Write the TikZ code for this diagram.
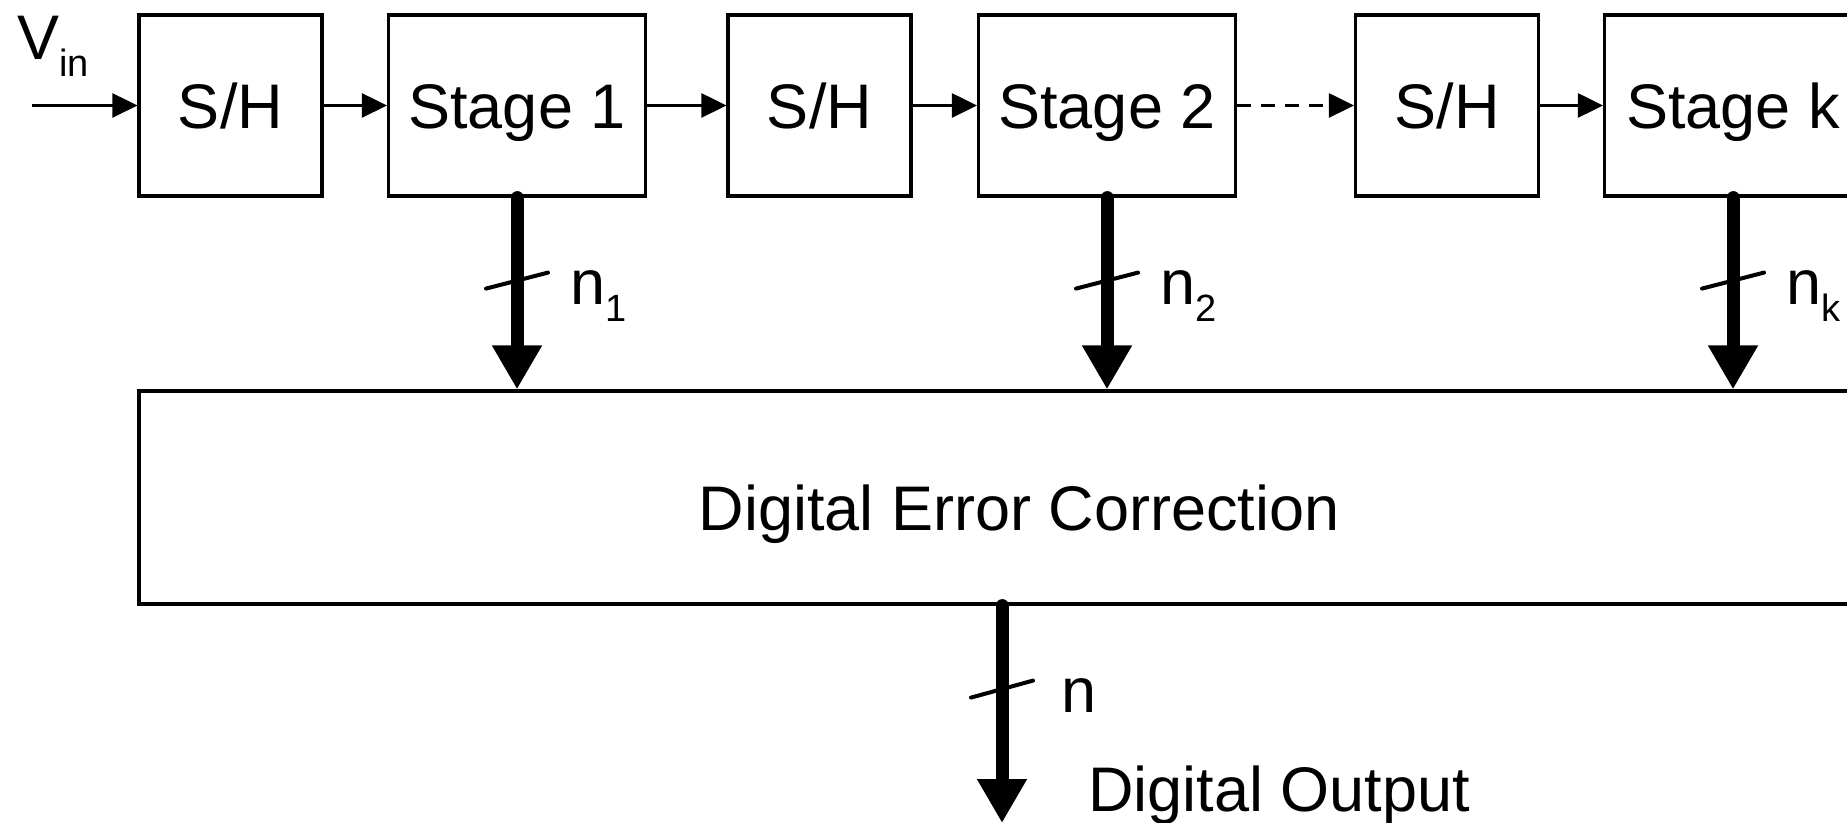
\documentclass[tikz,border=0pt]{standalone}
\usepackage{fontspec}
\setmainfont{Liberation Sans}
\usetikzlibrary{arrows.meta,calc}
\newcommand\mysub[1]{\raisebox{-8.5pt}{\fontsize{19pt}{19pt}\selectfont #1}}
\begin{document}
\begin{tikzpicture}[x=0.5pt,y=-0.5pt,
  bigfont/.style={font=\fontsize{31.5pt}{38pt}\selectfont},
  capcenter/.style={text height=22.55pt,text depth=0pt},
  box/.style={draw,line width=1.6pt,inner sep=0pt,capcenter,minimum height=90.5pt,bigfont},
  shbox/.style={box,minimum width=91.5pt},
  stagebox/.style={box,minimum width=128.5pt},
  sig/.style={line width=1.5pt,-{Triangle[length=12.5pt,width=12pt]}},
  bus/.style={line width=6.5pt,line cap=round,-{Triangle[length=22pt,width=23.5pt]}},
  tick/.style={line width=2pt,line cap=round},
  lbl/.style={inner sep=0pt,anchor=base west,bigfont},
]
\useasboundingbox (0,0) rectangle (1847,823);
\clip (0,0) rectangle (1847,823);

% top row
\node[shbox]    (sh1) at (230.5,105.5) {S/H};
\node[stagebox] (st1) at (517,105.5)   {Stage 1};
\node[shbox]    (sh2) at (819.5,105.5) {S/H};
\node[stagebox] (st2) at (1107,105.5)  {Stage 2};
\node[shbox]    (sh3) at (1447,105.5)  {S/H};
\node[stagebox] (stk) at (1733,105.5)  {Stage k};

% correction block
\node[draw,line width=1.6pt,inner sep=0pt,minimum width=880pt,minimum height=106.5pt] (dec) at (1019,497.5) {};
\node[inner sep=0pt,capcenter,bigfont] (dectext) at (1019,508) {Digital Error Correction};

% input
\node[lbl] (vin) at (17,60) {V\mysub{in}};
\coordinate (vinstart) at (32,105.5);
\draw[sig] (vinstart) -- (sh1.west);

% chain
\draw[sig] (sh1.east) -- (st1.west);
\draw[sig] (st1.east) -- (sh2.west);
\draw[sig] (sh2.east) -- (st2.west);
\draw[sig,dash pattern=on 7pt off 5pt] (st2.east) -- (sh3.west);
\draw[sig] (sh3.east) -- (stk.west);

% stage outputs
\foreach \s/\lab in {st1/1, st2/2, stk/k}{
  \draw[bus] (\s.south) -- (\s.south |- dec.north);
  \draw[tick] ($(\s.south)+(-31,91)$) -- ++(62,-16);
  \node[lbl] (lab\s) at ($(\s.south)+(53,107)$) {n\mysub{\lab}};
}

% output
\coordinate (outend) at (1002,823);
\draw[bus] (dec.south -| outend) -- (outend);
\draw[tick] ($(dec.south -| outend)+(-31,92)$) -- ++(62,-17);
\node[lbl] (nout) at ($(dec.south -| outend)+(59,107)$) {n};
\node[lbl] (dout) at (1088,811) {Digital Output};
\end{tikzpicture}
\end{document}
